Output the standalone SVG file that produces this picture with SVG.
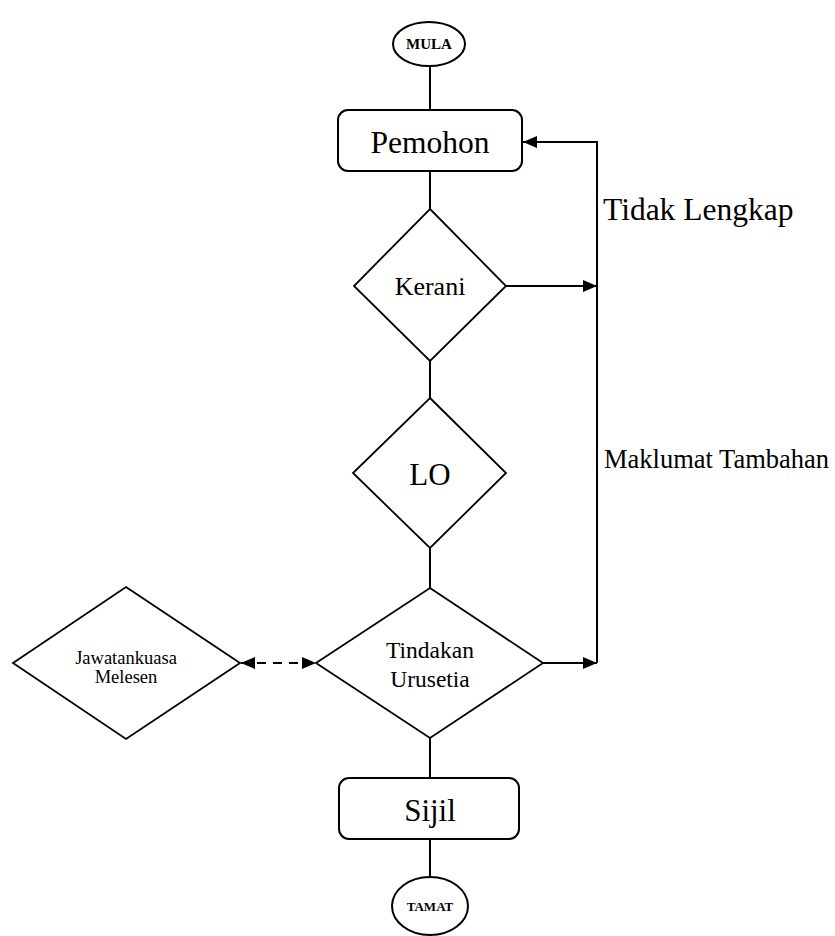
<svg xmlns="http://www.w3.org/2000/svg" width="835" height="936" viewBox="0 0 835 936">
<style>
.shape{fill:#fff;stroke:#000;stroke-width:2}
.dia{fill:#fff;stroke:#000;stroke-width:1.8}
.ln{fill:none;stroke:#000;stroke-width:2}
.t{font-family:"Liberation Serif","Times New Roman",serif;fill:#000;text-anchor:middle}
.tl{font-family:"Liberation Serif","Times New Roman",serif;fill:#000}
</style>
<defs>
<marker id="ah" viewBox="0 0 14 12" refX="14" refY="6" markerWidth="14" markerHeight="12" markerUnits="userSpaceOnUse" orient="auto-start-reverse">
<path d="M0,0 L14,6 L0,12 Z" fill="#000"/>
</marker>
</defs>
<rect width="835" height="936" fill="#fff"/>
<g id="connectors">
<line class="ln" x1="430" y1="66" x2="430" y2="110"/>
<line class="ln" x1="430" y1="171" x2="430" y2="209"/>
<line class="ln" x1="430" y1="361" x2="430" y2="398"/>
<line class="ln" x1="430" y1="548" x2="430" y2="588"/>
<line class="ln" x1="430" y1="738" x2="430" y2="778"/>
<line class="ln" x1="430" y1="839" x2="430" y2="877"/>
<polyline class="ln" points="597,663 597,142 523,142" marker-end="url(#ah)"/>
<line class="ln" x1="506" y1="286" x2="597" y2="286" marker-end="url(#ah)"/>
<line class="ln" x1="543" y1="663" x2="597" y2="663" marker-end="url(#ah)"/>
<line class="ln" x1="241" y1="663" x2="316" y2="663" stroke-dasharray="9,7" marker-start="url(#ah)" marker-end="url(#ah)"/>
</g>
<g id="mula">
<ellipse class="shape" cx="429" cy="44" rx="36" ry="22"/>
<text class="t" x="429" y="49" font-size="15" font-weight="bold">MULA</text>
</g>
<g id="pemohon">
<rect class="shape" x="338" y="110" width="184" height="61" rx="10"/>
<text class="t" x="430" y="153" font-size="31.5">Pemohon</text>
</g>
<g id="kerani">
<polygon class="dia" points="430,209 506,286 430,361 354,286"/>
<text class="t" x="430" y="295" font-size="26">Kerani</text>
</g>
<g id="lo">
<polygon class="dia" points="430,398 506,473 430,548 353,473"/>
<text class="t" x="430" y="485" font-size="31">LO</text>
</g>
<g id="tindakan">
<polygon class="dia" points="430,588 543,663 430,738 316,663"/>
<text class="t" x="430" y="658" font-size="23.5">Tindakan</text>
<text class="t" x="430" y="687" font-size="23.5">Urusetia</text>
</g>
<g id="jawatankuasa">
<polygon class="dia" points="126,587 240,663 126,739 13,663"/>
<text class="t" x="126" y="664" font-size="18.5">Jawatankuasa</text>
<text class="t" x="126" y="683" font-size="18.5">Melesen</text>
</g>
<g id="sijil">
<rect class="shape" x="339" y="778" width="180" height="61" rx="10"/>
<text class="t" x="430" y="821" font-size="31">Sijil</text>
</g>
<g id="tamat">
<ellipse class="shape" cx="430" cy="906" rx="38" ry="29"/>
<text class="t" x="430" y="911" font-size="13" font-weight="bold">TAMAT</text>
</g>
<g id="labels">
<text class="tl" x="603" y="220" font-size="31.5">Tidak Lengkap</text>
<text class="tl" x="604" y="468" font-size="26.5">Maklumat Tambahan</text>
</g>
</svg>
